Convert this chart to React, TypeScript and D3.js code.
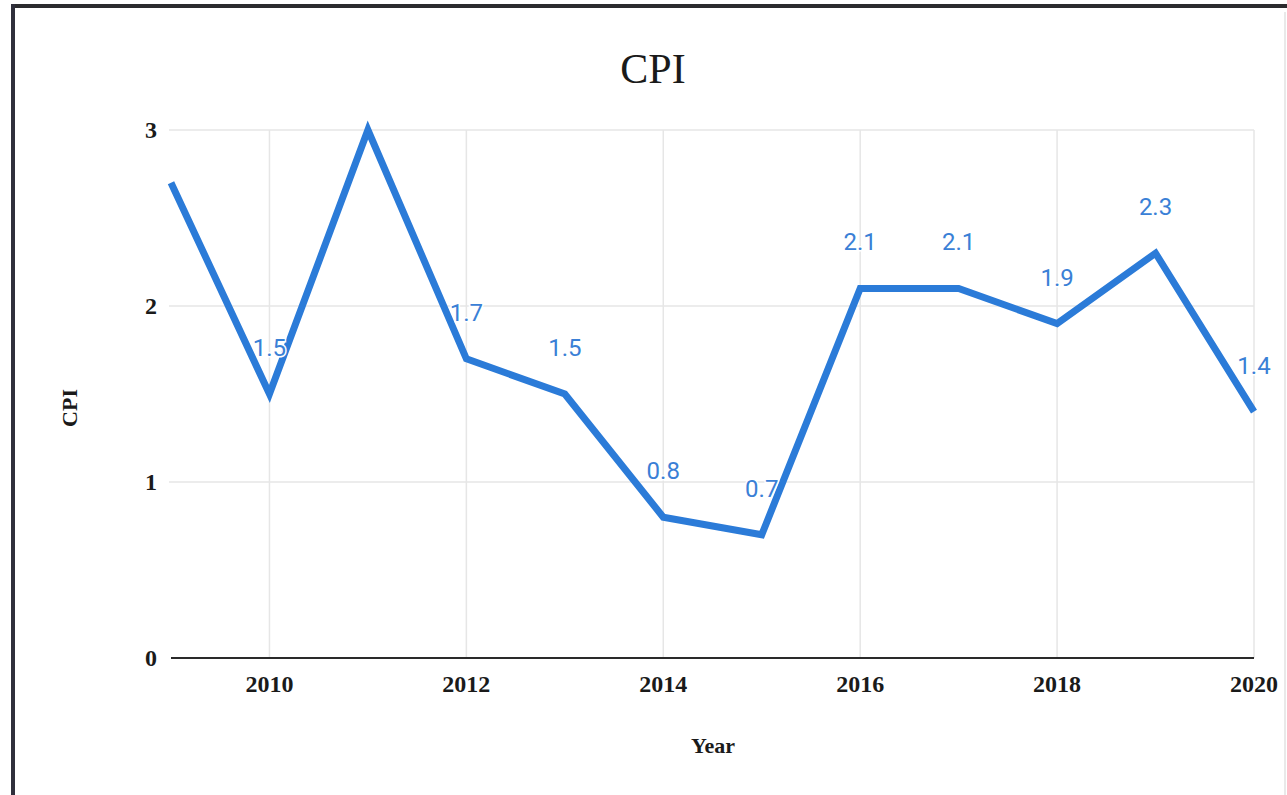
import React from "react";
import * as d3 from "d3";

// Annual CPI series
const years: number[] = [2009, 2010, 2011, 2012, 2013, 2014, 2015, 2016, 2017, 2018, 2019, 2020];
const cpi: number[] = [2.7, 1.5, 3.0, 1.7, 1.5, 0.8, 0.7, 2.1, 2.1, 1.9, 2.3, 1.4];
// Years whose value is printed next to the point
const labelledYears: number[] = [2010, 2012, 2013, 2014, 2015, 2016, 2017, 2018, 2019, 2020];
const xTicks: number[] = [2010, 2012, 2014, 2016, 2018, 2020];
const yTicks: number[] = [0, 1, 2, 3];

const W = 1287;
const H = 795;
const left = 171;
const right = 1254;
const top = 130;
const bottom = 658;

const serif = "'Liberation Serif', 'Times New Roman', serif";
const sans = "Roboto, 'Noto Sans', sans-serif";

export default function App() {
  const x = d3.scaleLinear().domain([2009, 2020]).range([left, right]);
  const y = d3.scaleLinear().domain([0, 3]).range([bottom, top]);

  const points = years.map((yr, i) => ({ yr, v: cpi[i] }));
  const path = d3
    .line<{ yr: number; v: number }>()
    .x((d) => x(d.yr))
    .y((d) => y(d.v))(points) as string;

  return (
    <svg
      width={W}
      height={H}
      style={{ position: "absolute", left: 0, top: 0, background: "#fff" }}
    >
      {/* frame */}
      <line x1={13} y1={6} x2={W} y2={6} stroke="#2b2b2e" strokeWidth={4} />
      <line x1={13} y1={4} x2={13} y2={H} stroke="#30303c" strokeWidth={4} />
      <line x1={1285} y1={12} x2={1285} y2={H} stroke="#e2e2e2" strokeWidth={1.5} />

      {/* title */}
      <text x={653} y={83} textAnchor="middle" fontFamily={serif} fontSize={42} fill="#1a1a1a">
        CPI
      </text>

      {/* grid */}
      {yTicks
        .filter((t) => t > 0)
        .map((t) => (
          <line key={"gy" + t} x1={left - 2} x2={right} y1={y(t)} y2={y(t)} stroke="#e6e6e6" strokeWidth={1.5} />
        ))}
      {xTicks.map((t) => (
        <line key={"gx" + t} x1={x(t)} x2={x(t)} y1={top} y2={bottom} stroke="#e6e6e6" strokeWidth={1.5} />
      ))}

      {/* x axis baseline */}
      <line x1={left} x2={right} y1={bottom} y2={bottom} stroke="#2a2a2a" strokeWidth={2} />

      {/* tick labels */}
      {xTicks.map((t) => (
        <text
          key={"tx" + t}
          x={x(t)}
          y={692}
          textAnchor="middle"
          fontFamily={serif}
          fontWeight="bold"
          fontSize={24}
          fill="#1a1a1a"
        >
          {t}
        </text>
      ))}
      {yTicks.map((t) => (
        <text
          key={"ty" + t}
          x={157}
          y={y(t)}
          dy="0.35em"
          textAnchor="end"
          fontFamily={serif}
          fontWeight="bold"
          fontSize={24}
          fill="#1a1a1a"
        >
          {t}
        </text>
      ))}

      {/* axis titles */}
      <text x={713} y={753} textAnchor="middle" fontFamily={serif} fontWeight="bold" fontSize={22} fill="#1a1a1a">
        Year
      </text>
      <text
        transform={`translate(77,408) rotate(-90)`}
        textAnchor="middle"
        fontFamily={serif}
        fontWeight="bold"
        fontSize={22}
        fill="#1a1a1a"
      >
        CPI
      </text>

      {/* series */}
      <path d={path} fill="none" stroke="#2b7bd8" strokeWidth={7} strokeLinejoin="miter" />

      {/* value labels */}
      {points
        .filter((p) => labelledYears.includes(p.yr))
        .map((p) => (
          <text
            key={"l" + p.yr}
            x={x(p.yr)}
            y={y(p.v) - 38}
            textAnchor="middle"
            fontFamily={sans}
            fontSize={24}
            fill="#3a80d6"
            stroke="#fff"
            strokeWidth={3}
            paintOrder="stroke"
          >
            {p.v.toFixed(1)}
          </text>
        ))}
    </svg>
  );
}
